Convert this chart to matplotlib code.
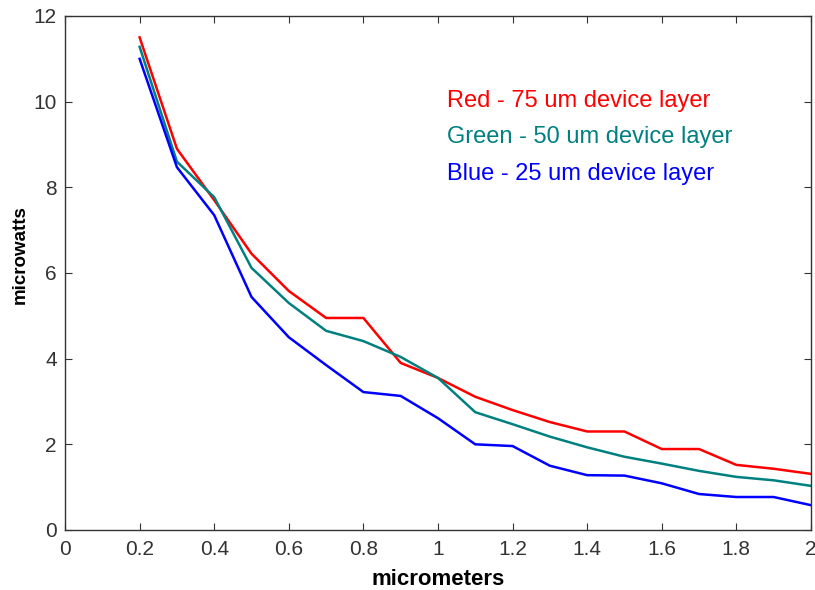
import matplotlib
matplotlib.use("Agg")
import matplotlib.pyplot as plt
import numpy as np

plt.rcParams['font.family'] = ['Liberation Sans', 'DejaVu Sans']

x_um = [0.2, 0.3, 0.4, 0.5, 0.6, 0.7, 0.8, 0.9, 1.0, 1.1, 1.2, 1.3, 1.4, 1.5, 1.6, 1.7, 1.8, 1.9, 2.0]
red_75 = [11.5, 8.9, 7.7, 6.45, 5.58, 4.95, 4.95, 3.9, 3.55, 3.11, 2.8, 2.52, 2.3, 2.3, 1.89, 1.89, 1.52, 1.43, 1.31]
green_50 = [11.28, 8.6, 7.77, 6.12, 5.3, 4.65, 4.41, 4.04, 3.55, 2.75, 2.47, 2.18, 1.93, 1.71, 1.55, 1.38, 1.24, 1.16, 1.03]
blue_25 = [11.0, 8.47, 7.35, 5.44, 4.5, 3.85, 3.22, 3.13, 2.61, 2.0, 1.96, 1.5, 1.28, 1.27, 1.09, 0.84, 0.77, 0.77, 0.58]

labels = ["Red - 75 um device layer", "Green - 50 um device layer", "Blue - 25 um device layer"]
colors = ["#ff0000", "#008080", "#0000ff"]

fig = plt.figure(figsize=(8.15, 5.9), dpi=100)
ax = fig.add_axes([0.0798, 0.1017, 0.9152, 0.8712])

for y, c in zip([red_75, green_50, blue_25], colors):
    ax.plot(x_um, y, color=c, lw=1.8)

ax.set_xlim(0, 2)
ax.set_ylim(0, 12)
ax.set_xticks(np.arange(0, 2.01, 0.2))
ax.set_xticklabels(["0", "0.2", "0.4", "0.6", "0.8", "1", "1.2", "1.4", "1.6", "1.8", "2"])
ax.set_yticks(range(0, 13, 2))
ax.tick_params(direction='in', top=True, right=True, length=5, labelsize=15,
               colors='#333333', labelcolor='#333333')
ax.tick_params(axis='x', pad=7)
ax.tick_params(axis='y', pad=6)
for s in ax.spines.values():
    s.set_color('#333333')
    s.set_linewidth(1.0)

ax.set_xlabel("micrometers", fontsize=16, fontweight='bold')
ax.xaxis.set_label_coords(0.5, -0.076)
ax.set_ylabel("microwatts", fontsize=13.5, fontweight='bold')
ax.yaxis.set_label_coords(-0.049, 0.535)

baselines = [0.8236, 0.7529, 0.6809]
for lab, c, yb in zip(labels, colors, baselines):
    ax.text(0.512, yb, lab, color=c, fontsize=17, transform=ax.transAxes, va='baseline')

fig.savefig("out.png", dpi=100)
